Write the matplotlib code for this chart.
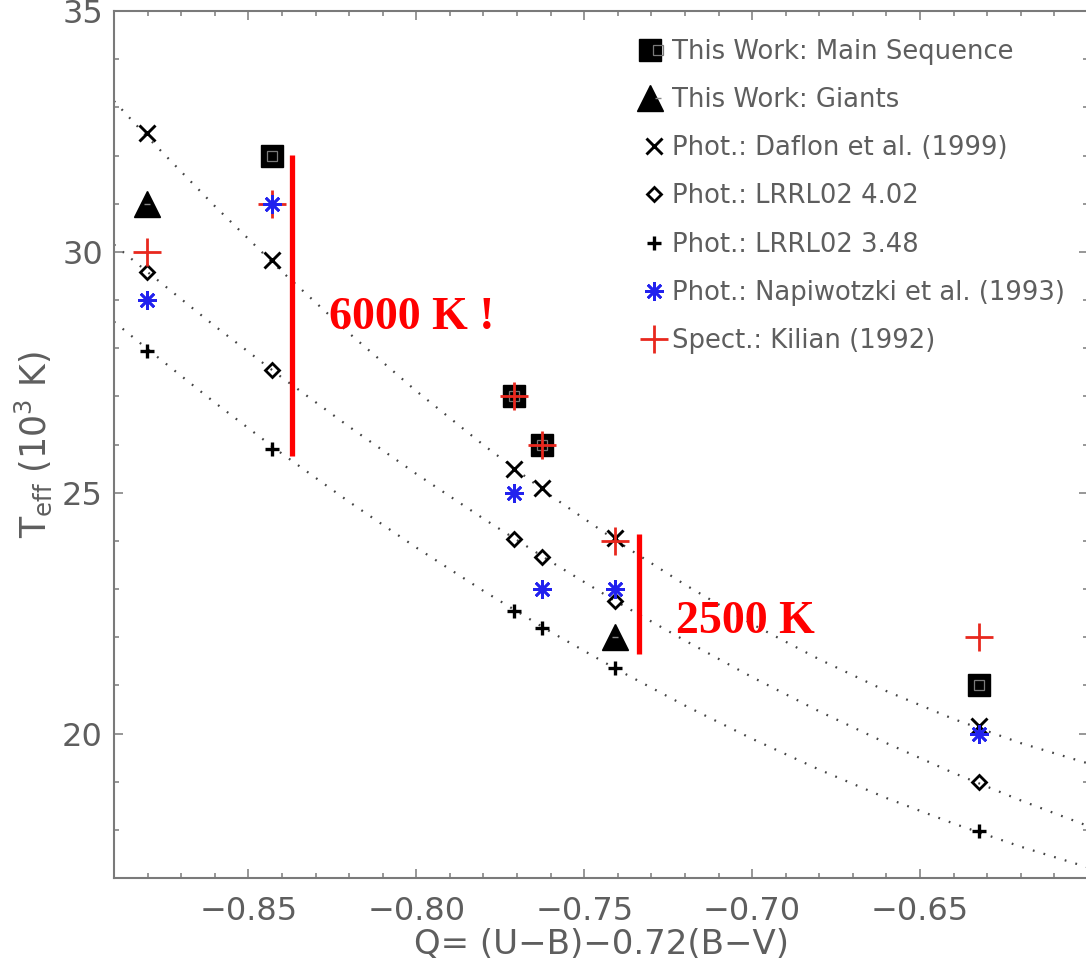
import matplotlib
matplotlib.use("Agg")
import matplotlib.pyplot as plt
from matplotlib.ticker import MultipleLocator, FixedLocator
from matplotlib.legend_handler import HandlerTuple

# ---------------- data ----------------
Q = [-0.8801, -0.8429, -0.7708, -0.7627, -0.7408, -0.6324]

ms_q = [-0.8429, -0.7708, -0.7627, -0.6324]
ms_t = [32.0, 27.0, 26.0, 21.0]
gi_q = [-0.8801, -0.7408]
gi_t = [31.0, 22.0]

daflon_t = [32.46, 29.83, 25.50, 25.09, 24.05, 20.15]
lrrl402_t = [29.58, 27.54, 24.03, 23.67, 22.75, 19.00]
lrrl348_t = [27.94, 25.90, 22.54, 22.19, 21.36, 17.97]
napi_t = [29.0, 31.0, 25.0, 23.0, 23.0, 20.0]
kilian_t = [30.0, 31.0, 27.0, 26.0, 24.0, 22.0]

# dotted calibration curves
curve_q = [-0.89, -0.88, -0.86, -0.84, -0.82, -0.80, -0.78, -0.76,
           -0.74, -0.72, -0.70, -0.68, -0.66, -0.64, -0.62, -0.60]
curve_upper = [33.13, 32.38, 30.95, 29.59, 28.31, 27.11, 25.99, 24.94,
               23.98, 23.09, 22.27, 21.54, 20.88, 20.30, 19.80, 19.38]
curve_mid = [30.15, 29.58, 28.46, 27.39, 26.37, 25.39, 24.46, 23.57,
             22.72, 21.93, 21.17, 20.46, 19.80, 19.18, 18.61, 18.08]
curve_low = [28.55, 27.98, 26.87, 25.81, 24.81, 23.86, 22.96, 22.11,
             21.32, 20.58, 19.89, 19.25, 18.66, 18.13, 17.65, 17.22]

x_major = [-0.85, -0.80, -0.75, -0.70, -0.65]

labels = ["This Work: Main Sequence", "This Work: Giants",
          "Phot.: Daflon et al. (1999)", "Phot.: LRRL02 4.02",
          "Phot.: LRRL02 3.48", "Phot.: Napiwotzki et al. (1993)",
          "Spect.: Kilian (1992)"]

# ---------------- styling ----------------
plt.rcParams['font.family'] = ['DejaVu Sans']
plt.rcParams['mathtext.fontset'] = 'dejavusans'
GREY = '#5e5e5e'
AXC = '#7a7a7a'
RED = '#ff0000'
KRED = '#e8281e'
BLUE = '#2222ee'

W, H = 1086, 964
fig = plt.figure(figsize=(W / 100, H / 100), dpi=100)
ax = fig.add_axes([114 / W, (H - 878) / H, 974 / W, 867 / H])
ax.set_xlim(-0.89, -0.60)
ax.set_ylim(17, 35)

dot = dict(color='#444444', lw=1.6, linestyle=(0, (0.8, 4.2)), zorder=1)
ax.plot(curve_q, curve_upper, **dot)
ax.plot(curve_q, curve_mid, **dot)
ax.plot(curve_q, curve_low, **dot)

# red bars
ax.plot([-0.8369, -0.8369], [25.77, 32.02], color=RED, lw=3.8,
        solid_capstyle='butt', zorder=2)
ax.plot([-0.7336, -0.7336], [21.65, 24.15], color=RED, lw=3.8,
        solid_capstyle='butt', zorder=2)

sq, = ax.plot(ms_q, ms_t, 's', ms=16.5, mfc='k', mec='k', zorder=3)
sqi, = ax.plot(ms_q, ms_t, 's', ms=7, mfc='none', mec='#7a7a7a', mew=0.9, zorder=3.1)
tri, = ax.plot(gi_q, gi_t, '^', ms=19, mfc='k', mec='k', zorder=3)
trid, = ax.plot(gi_q, gi_t, '_', ms=5, mec='#888888', mew=1.0, zorder=3.1)
dx, = ax.plot(Q, daflon_t, 'x', ms=11, mec='k', mew=2.1, zorder=4)
dd, = ax.plot(Q, lrrl402_t, 'D', ms=7.2, mfc='none', mec='k', mew=2.0, zorder=4)
dp, = ax.plot(Q, lrrl348_t, '+', ms=10.5, mec='k', mew=2.4, zorder=4)
kp, = ax.plot(Q, kilian_t, '+', ms=20, mec=KRED, mew=2.0, zorder=5)
ns, = ax.plot(Q, napi_t, marker=(8, 2, 0), ls='none', ms=13.5, mec=BLUE, mew=1.9, zorder=6)

ax.text(-0.8259, 28.40, "6000 K !", color=RED, fontsize=33, fontweight='bold',
        family=['Liberation Serif', 'DejaVu Serif'], va='baseline', ha='left')
ax.text(-0.7226, 22.08, "2500 K", color=RED, fontsize=33, fontweight='bold',
        family=['Liberation Serif', 'DejaVu Serif'], va='baseline', ha='left')

leg = ax.legend([(sq, sqi), (tri, trid), dx, dd, dp, ns, kp], labels,
                handler_map={tuple: HandlerTuple(ndivide=None, pad=0)},
                loc='upper left', bbox_to_anchor=(0.5465, 0.968),
                frameon=False, fontsize=18.6, labelcolor=GREY,
                handlelength=0.6, handletextpad=0.4, labelspacing=0.86,
                borderpad=0, borderaxespad=0, markerscale=1.0)

# axes
ax.xaxis.set_major_locator(FixedLocator(x_major))
ax.xaxis.set_minor_locator(MultipleLocator(0.01))
ax.yaxis.set_major_locator(MultipleLocator(5))
ax.yaxis.set_minor_locator(MultipleLocator(1))
ax.tick_params(which='both', direction='in', top=True, right=True, color=AXC,
               labelcolor=GREY, labelsize=23, width=1.1)
ax.tick_params(which='major', length=6.5)
ax.tick_params(which='minor', length=3.3)
ax.tick_params(axis='x', which='major', pad=13)
ax.tick_params(axis='y', which='major', pad=8)
ax.xaxis.set_major_formatter(plt.FuncFormatter(lambda v, p: ("%.2f" % v).replace('-', '\u2212')))
for s in ax.spines.values():
    s.set_color(AXC)
    s.set_linewidth(1.5)

ax.set_xlabel("Q= (U\u2212B)\u22120.72(B\u2212V)", fontsize=24.5, color=GREY, labelpad=1)
ax.set_ylabel(r"T$_{\rm eff}$ (10$^{3}$ K)", fontsize=25, color=GREY, labelpad=6)

fig.savefig("out.png", dpi=100)
